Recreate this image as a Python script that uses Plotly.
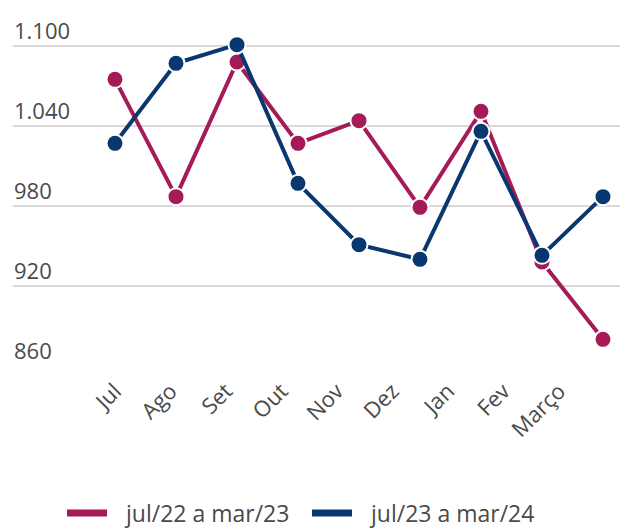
import plotly.graph_objects as go

months = ["Jul", "Ago", "Set", "Out", "Nov", "Dez", "Jan", "Fev", "Março"]
serie_22_23 = [1075, 987, 1088, 1027, 1044, 979, 1051, 938, 880]
serie_23_24 = [1027, 1087, 1101, 997, 951, 940, 1036, 943, 987]
names = ["jul/22 a mar/23", "jul/23 a mar/24"]
ytick_vals = [860, 920, 980, 1040, 1100]
ytick_text = ["860", "920", "980", "1.040", "1.100"]

colors = ["#A51B58", "#093870"]
text_col = "#4a4a4a"

# figure geometry (the page body adds an 8px offset)
W, H = 620, 521
ML, MR, MT, MB = 5, 0, 2, 163
PW, PH = W - ML - MR, H - MT - MB


def px_to_paper_x(px):
    return (px - ML) / PW


def px_to_paper_y(py):
    return (H - MB - py) / PH


fig = go.Figure()
for vals, name, col in zip([serie_22_23, serie_23_24], names, colors):
    fig.add_trace(go.Scatter(
        x=months, y=vals, mode="lines+markers", name=name,
        line=dict(color=col, width=4),
        marker=dict(size=17, color=col, line=dict(color="white", width=2)),
        showlegend=False, hoverinfo="x+y",
    ))

# invisible trace to activate the label axis
fig.add_trace(go.Scatter(x=months, y=[None] * len(months), xaxis="x2",
                         showlegend=False, hoverinfo="skip", mode="lines"))

# y tick labels above the gridlines
for v, t in zip(ytick_vals, ytick_text):
    fig.add_annotation(
        x=0, xref="paper", y=v, yref="y", text=t, showarrow=False,
        xanchor="left", yanchor="bottom", borderpad=0,
        font=dict(size=22, color=text_col, family="Open Sans"),
    )

# legend (line swatch + label)
legend_items = [(59, 99, 115), (304, 344, 360)]
ly = 505
for (x0, x1, tx), name, col in zip(legend_items, names, colors):
    fig.add_shape(type="line", xref="paper", yref="paper",
                  x0=px_to_paper_x(x0), x1=px_to_paper_x(x1),
                  y0=px_to_paper_y(ly), y1=px_to_paper_y(ly),
                  line=dict(color=col, width=7))
    fig.add_annotation(x=px_to_paper_x(tx), y=px_to_paper_y(ly),
                       xref="paper", yref="paper", text=name,
                       showarrow=False, xanchor="left", yanchor="middle",
                       borderpad=0,
                       font=dict(size=23, color=text_col, family="Open Sans"))

fig.update_layout(
    width=W, height=H,
    margin=dict(l=ML, r=MR, t=MT, b=MB, autoexpand=False),
    paper_bgcolor="white", plot_bgcolor="white",
    font=dict(family="Open Sans", color=text_col),
    showlegend=False,
    xaxis=dict(
        type="category", range=[-1.672, 8.410],
        showticklabels=False,
        showgrid=False, zeroline=False, showline=False, ticks="",
        fixedrange=True,
    ),
    xaxis2=dict(
        type="category", range=[-1.838, 9.243], overlaying="x",
        anchor="y", side="bottom", categoryarray=months,
        categoryorder="array", tickvals=months,
        tickangle=-45, tickfont=dict(size=22, color=text_col),
        ticklabelstandoff=7,
        showgrid=False, zeroline=False, showline=False, ticks="",
        fixedrange=True,
    ),
    yaxis=dict(
        range=[860, 1127], tickvals=ytick_vals,
        showticklabels=False,
        showgrid=True, gridcolor="#d9d9d9", gridwidth=2,
        zeroline=False, showline=False, ticks="",
        fixedrange=True,
    ),
)

fig.write_html("out.html")
